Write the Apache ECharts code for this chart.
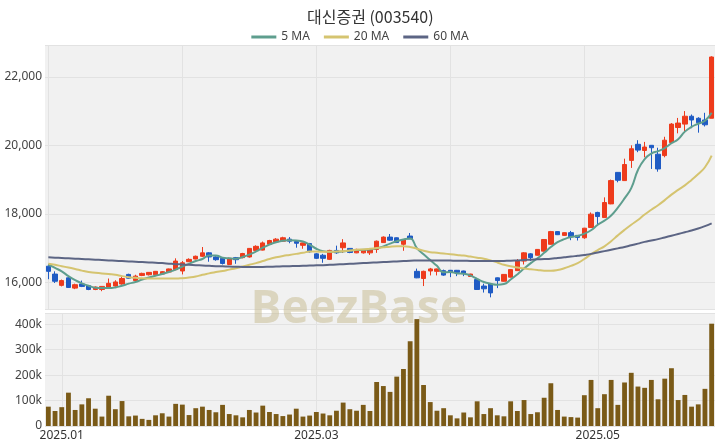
<!DOCTYPE html>
<html>
<head>
<meta charset="utf-8">
<script src="https://cdn.jsdelivr.net/npm/echarts@6/dist/echarts.min.js"></script>
<style>
html,body{margin:0;padding:0;background:#fff;}
#chart{width:720px;height:448px;}
</style>
</head>
<body>
<div id="chart"></div>
<script>
const titleText = '대신증권 (003540)';
const dates = ['2024-12-27','2024-12-30','2025-01-02','2025-01-03','2025-01-06','2025-01-07','2025-01-08','2025-01-09','2025-01-10','2025-01-13','2025-01-14','2025-01-15','2025-01-16','2025-01-17','2025-01-20','2025-01-21','2025-01-22','2025-01-23','2025-01-24','2025-01-31',
'2025-02-03','2025-02-04','2025-02-05','2025-02-06','2025-02-07','2025-02-10','2025-02-11','2025-02-12','2025-02-13','2025-02-14','2025-02-17','2025-02-18','2025-02-19','2025-02-20','2025-02-21','2025-02-24','2025-02-25','2025-02-26','2025-02-27','2025-02-28',
'2025-03-04','2025-03-05','2025-03-06','2025-03-07','2025-03-10','2025-03-11','2025-03-12','2025-03-13','2025-03-14','2025-03-17','2025-03-18','2025-03-19','2025-03-20','2025-03-21','2025-03-24','2025-03-25','2025-03-26','2025-03-27','2025-03-28','2025-03-31',
'2025-04-01','2025-04-02','2025-04-03','2025-04-04','2025-04-07','2025-04-08','2025-04-09','2025-04-10','2025-04-11','2025-04-14','2025-04-15','2025-04-16','2025-04-17','2025-04-18','2025-04-21','2025-04-22','2025-04-23','2025-04-24','2025-04-25','2025-04-28','2025-04-29','2025-04-30',
'2025-05-02','2025-05-07','2025-05-08','2025-05-09','2025-05-12','2025-05-13','2025-05-14','2025-05-15','2025-05-16','2025-05-19','2025-05-20','2025-05-21','2025-05-22','2025-05-23','2025-05-26','2025-05-27','2025-05-28','2025-05-29'];

const xTickDates = ['2025-01-02','2025-03-04','2025-05-02'];
const xTickLabels = ['2025.01','2025.03','2025.05'];

const openP = [16470,16240,15910,16130,15830,15950,15900,15790,15790,15850,15890,15950,16230,16050,16200,16220,16220,16240,16300,16370,
16330,16600,16680,16760,16860,16740,16700,16520,16720,16720,16740,16930,16940,17110,17180,17200,17260,17190,17080,17130,
16830,16790,16670,16930,17010,16990,16860,16860,16860,16960,17160,17320,17300,17110,17350,16320,16110,16330,16320,16340,
16350,16350,16330,16170,16080,15890,15950,16130,16030,16150,16340,16620,16830,16790,16910,17110,17480,17370,17450,17370,
17300,17600,18040,17890,18290,19210,18970,19560,20030,19850,20000,19740,19700,20080,20520,20620,20850,20790,20740,20790];
const closeP = [16320,16030,16050,15850,15930,15880,15790,15860,15880,15970,16010,16110,16120,16180,16260,16290,16320,16310,16390,16620,
16570,16670,16760,16860,16740,16660,16550,16700,16660,16840,16990,17050,17150,17220,17260,17300,17200,17140,17150,16890,
16700,16700,16930,16860,17150,16870,16960,16950,16950,17200,17320,17230,17160,17250,17270,16130,16320,16390,16390,16210,
16290,16290,16270,16240,15790,15810,15690,16050,16230,16370,16620,16860,16720,16960,17250,17480,17390,17450,17330,17310,
17580,17990,17920,18330,18970,18980,19440,19900,19860,19950,19930,19310,20150,20620,20650,20850,20740,20660,20600,22580];
const lowP = [16090,15980,15880,15840,15800,15860,15770,15770,15740,15840,15870,15930,16100,16030,16180,16200,16210,16230,16290,16350,
16230,16590,16670,16740,16600,16630,16520,16500,16540,16700,16720,16920,16930,17100,17170,17190,17140,17010,16980,16870,
16680,16570,16650,16830,16860,16850,16850,16840,16800,16860,17150,17210,17150,16920,17260,16120,15890,16200,16200,16190,
16150,16180,16180,16160,15780,15700,15560,15830,16020,16140,16330,16520,16620,16780,16900,17100,17380,17360,17230,17220,
17270,17590,17650,17880,18280,18920,18960,19340,19800,19650,19310,19230,19650,20070,20350,20400,20500,20370,20550,20790];
const highP = [16530,16320,16080,16180,15960,16050,15920,15880,15890,16110,16060,16160,16250,16220,16280,16300,16330,16330,16400,16700,
16620,16700,16780,17030,16880,16760,16720,16720,16740,16860,17000,17080,17190,17240,17290,17330,17320,17200,17160,17150,
16850,16830,16950,17070,17260,17000,16980,16970,16970,17220,17340,17410,17310,17260,17440,16400,16340,16420,16400,16370,
16360,16360,16340,16250,16130,15960,15960,16140,16240,16380,16680,16880,16850,16970,17260,17500,17490,17460,17500,17380,
17590,18040,18060,18480,19000,19220,19610,20000,20150,20100,20010,19930,20250,20650,20800,21000,20900,20820,20950,22600];

const volume = [76000,59000,74000,131000,63000,85000,109000,68000,37000,119000,66000,98000,38000,41000,28000,24000,42000,50000,37000,87000,
84000,43000,70000,76000,63000,54000,83000,47000,42000,34000,63000,53000,80000,55000,47000,39000,45000,68000,37000,41000,
55000,49000,42000,60000,92000,66000,60000,83000,59000,173000,157000,134000,194000,224000,333000,420000,161000,94000,60000,70000,
42000,30000,53000,34000,97000,47000,70000,42000,38000,97000,59000,102000,47000,54000,111000,168000,63000,37000,35000,33000,
121000,181000,70000,125000,181000,83000,171000,209000,155000,150000,181000,105000,186000,227000,102000,122000,76000,85000,146000,402000];

const ma5 = [16520,16420,16320,16180,16060,15970,15900,15840,15830,15830,15850,15900,15960,16010,16080,16140,16190,16240,16300,16370,
16460,16540,16620,16680,16780,16780,16720,16700,16690,16740,16810,16900,17010,17100,17170,17210,17230,17220,17190,17100,
16980,16910,16890,16890,16900,16930,16940,16950,16960,16990,17050,17130,17200,17250,17280,17000,16820,16650,16480,16290,
16300,16260,16250,16200,16100,16010,15960,15930,15950,16080,16230,16400,16560,16700,16860,17030,17170,17260,17320,17350,
17420,17520,17680,17800,17950,18180,18450,18750,19280,19600,19760,19830,19920,20060,20180,20400,20540,20630,20720,20950];
const ma20 = [16540,16510,16470,16430,16390,16340,16300,16280,16260,16240,16220,16180,16150,16130,16115,16110,16110,16110,16110,16110,
16120,16140,16170,16220,16260,16300,16330,16370,16410,16460,16510,16560,16620,16680,16730,16770,16800,16830,16860,16900,
16900,16890,16890,16900,16910,16930,16950,16960,16980,17000,17020,17040,17050,17050,17030,16980,16920,16880,16860,16840,
16820,16800,16780,16750,16720,16690,16640,16580,16510,16470,16430,16400,16380,16360,16340,16340,16360,16410,16480,16560,
16680,16820,16940,17050,17200,17370,17530,17680,17820,17980,18120,18250,18400,18560,18700,18830,18990,19160,19360,19700];
const ma60 = [16730,16720,16710,16700,16690,16680,16670,16660,16650,16640,16630,16620,16610,16600,16590,16580,16570,16560,16545,16530,
16520,16510,16500,16490,16480,16470,16465,16460,16455,16450,16450,16450,16450,16455,16460,16465,16470,16475,16480,16490,
16495,16500,16510,16520,16530,16540,16550,16560,16570,16580,16590,16600,16610,16620,16630,16635,16640,16640,16640,16640,
16635,16630,16630,16625,16625,16620,16620,16620,16625,16630,16640,16650,16660,16670,16680,16690,16710,16730,16750,16775,
16800,16830,16870,16910,16950,16990,17030,17080,17130,17180,17220,17260,17310,17360,17410,17460,17510,17570,17640,17720];

const upColor = '#EE3B1C';
const downColor = '#1F5BC4';
const volColor = '#7A5A17';
const ma5Color = '#5E9E8E';
const ma20Color = '#D5C470';
const ma60Color = '#5C6584';

const candleData = dates.map((d, i) => [openP[i], closeP[i], lowP[i], highP[i]]);
const isTick = (idx) => xTickDates.indexOf(dates[idx]) >= 0;

const chart = echarts.init(document.getElementById('chart'), null, {renderer: 'canvas'});
const font = "'Noto Sans', 'Noto Sans CJK KR', sans-serif";
const option = {
  animation: false,
  backgroundColor: '#ffffff',
  textStyle: {fontFamily: font},
  title: {
    text: titleText, left: 302, top: 4,
    textStyle: {fontFamily: "'Noto Sans CJK KR', sans-serif", fontSize: 16, fontWeight: 'normal', color: '#333'}
  },
  legend: {
    top: 26, left: 'center', itemWidth: 25, itemHeight: 3, itemGap: 14, icon: 'rect',
    textStyle: {fontSize: 12, color: '#444'},
    data: ['5 MA', '20 MA', '60 MA']
  },
  graphic: [{
    type: 'text', x: 359, y: 310, z: 1, silent: true,
    style: {text: 'BeezBase', font: "bold 46px 'Noto Sans', sans-serif", fill: 'rgba(200,190,150,0.55)', textAlign: 'center', textVerticalAlign: 'middle'}
  }],
  grid: [
    {left: 45, right: 5, top: 45, height: 264, show: true, backgroundColor: '#f1f1f1', borderWidth: 0},
    {left: 45, right: 5, top: 313, height: 113, show: true, backgroundColor: '#f1f1f1', borderWidth: 0}
  ],
  xAxis: [
    {type: 'category', gridIndex: 0, data: dates, boundaryGap: true,
     axisLine: {show: false}, axisTick: {show: false, alignWithLabel: true}, axisLabel: {show: false, interval: 19},
     splitLine: {show: true, interval: 19, alignWithLabel: true, lineStyle: {color: '#e2e2e2', width: 1}}},
    {type: 'category', gridIndex: 1, data: dates, boundaryGap: true,
     axisLine: {show: false}, axisTick: {show: false, alignWithLabel: true},
     axisLabel: {show: true, interval: (idx) => isTick(idx), color: '#333', fontSize: 12, margin: 4,
       formatter: (v) => { const k = xTickDates.indexOf(v); return k >= 0 ? xTickLabels[k] : ''; }},
     splitLine: {show: true, interval: (idx) => isTick(idx), alignWithLabel: true, lineStyle: {color: '#e2e2e2', width: 1}}}
  ],
  yAxis: [
    {type: 'value', gridIndex: 0, min: 15220, max: 22930, scale: true,
     axisLine: {show: false}, axisTick: {show: false},
     axisLabel: {color: '#444', fontSize: 12, margin: 3, showMinLabel: false, showMaxLabel: false},
     splitLine: {show: true, lineStyle: {color: '#e2e2e2', width: 1}}},
    {type: 'value', gridIndex: 1, min: 0, max: 444000, interval: 100000,
     axisLine: {show: false}, axisTick: {show: false},
     axisLabel: {color: '#444', fontSize: 12, margin: 3, showMaxLabel: false,
       formatter: (v) => v === 0 ? '0' : (v / 1000) + 'k'},
     splitLine: {show: true, lineStyle: {color: '#e2e2e2', width: 1}}}
  ],
  series: [
    {name: 'candle', type: 'candlestick', xAxisIndex: 0, yAxisIndex: 0, data: candleData, barWidth: '72%', z: 3,
     itemStyle: {color: upColor, color0: downColor, borderColor: upColor, borderColor0: downColor, borderWidth: 1}},
    {name: '5 MA', type: 'line', xAxisIndex: 0, yAxisIndex: 0, data: ma5, smooth: true, symbol: 'none', z: 4,
     lineStyle: {color: ma5Color, width: 2}, itemStyle: {color: ma5Color}},
    {name: '20 MA', type: 'line', xAxisIndex: 0, yAxisIndex: 0, data: ma20, smooth: true, symbol: 'none', z: 4,
     lineStyle: {color: ma20Color, width: 2}, itemStyle: {color: ma20Color}},
    {name: '60 MA', type: 'line', xAxisIndex: 0, yAxisIndex: 0, data: ma60, smooth: true, symbol: 'none', z: 4,
     lineStyle: {color: ma60Color, width: 2}, itemStyle: {color: ma60Color}},
    {name: 'Volume', type: 'bar', xAxisIndex: 1, yAxisIndex: 1, data: volume, barWidth: '72%', z: 3,
     itemStyle: {color: volColor}}
  ]
};
chart.setOption(option);
</script>
</body>
</html>
